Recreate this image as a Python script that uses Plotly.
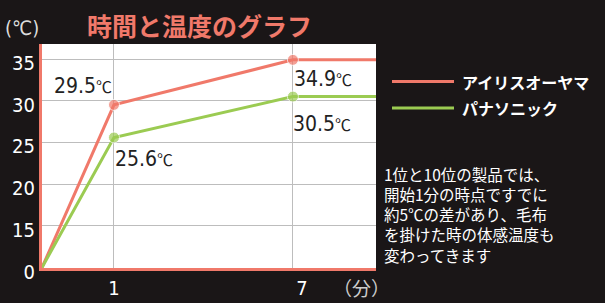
import plotly.graph_objects as go

# ---- data ----
MINUTES = [0, 1, 7]
IRIS = [0, 29.5, 34.9]
PANA = [0, 25.6, 30.5]
SERIES_NAMES = ["アイリスオーヤマ", "パナソニック"]
Y_TICKS = [0, 15, 20, 25, 30, 35]
X_TICKS = [1, 7]
TITLE = "時間と温度のグラフ"
NOTE_LINES = ["1位と10位の製品では、", "開始1分の時点ですでに", "約5℃の差があり、毛布",
              "を掛けた時の体感温度も", "変わってきます"]

SALMON = "#F0796A"
GREEN = "#9BCB52"
BG = "#1a1617"
NUM_FONT = "Liberation Sans Narrow, DejaVu Sans Condensed, Roboto, sans-serif"
JP_FONT = "Noto Sans CJK JP"

# axis scales with breaks (x compressed after 1 minute, y compressed below 15)
def xs(m):
    return m if m <= 1 else 1 + (m - 1) * 0.4143

def ys(v):
    return v if v >= 15 else 10 + v / 3.0

X_RANGE = [0, 4.64]
Y_RANGE = [9.95, 36.8]

# plot-area pixel geometry -> paper coords helpers
L, R, T, B = 42, 376, 44, 268
def px(p):
    return (p - L) / (R - L)
def py(p):
    return (B - p) / (B - T)

fig = go.Figure()
series = [(IRIS, SALMON, SERIES_NAMES[0]), (PANA, GREEN, SERIES_NAMES[1])]
for vals, col, name in series:
    xx = [xs(m) for m in MINUTES] + [X_RANGE[1]]
    yy = [ys(v) for v in vals] + [ys(vals[-1])]
    sizes = [0] + [11] * (len(MINUTES) - 1) + [0]
    fig.add_trace(go.Scatter(x=xx, y=yy, mode="lines+markers", name=name,
                             line=dict(color=col, width=3),
                             marker=dict(color=col, size=sizes),
                             cliponaxis=False, showlegend=False))

# value labels (pixel offsets from their point)
label_shifts = {
    (0, 1): (-31, 18.5), (0, 2): (30.5, -19),
    (1, 1): (30.5, -21.5), (1, 2): (29.5, -27),
}
annotations = []
for si, (vals, col, name) in enumerate(series):
    for i in (1, 2):
        dx, dy = label_shifts[(si, i)]
        annotations.append(dict(
            x=xs(MINUTES[i]), y=ys(vals[i]), xref="x", yref="y",
            text=f"{vals[i]}<span style='font-family:Noto Sans CJK JP;font-size:16px'>℃</span>",
            showarrow=False, xshift=dx, yshift=dy, xanchor="center", yanchor="middle",
            font=dict(family=NUM_FONT, size=21, color="#222222")))

def paper_text(xp, yp, text, font, xanchor="center", align="center"):
    return dict(x=px(xp), y=py(yp), xref="paper", yref="paper", text=text, align=align,
                showarrow=False, xanchor=xanchor, yanchor="middle", font=font)

annotations.append(paper_text(199, 25, f"<b>{TITLE}</b>",
                              dict(family=JP_FONT, size=25, color=SALMON)))
annotations.append(paper_text(22, 28, "(℃)", dict(family=NUM_FONT, size=20, color="#dddddd")))
annotations.append(paper_text(361, 287, "（分）", dict(family=JP_FONT, size=19, color="#cccccc")))

# legend drawn manually
shapes = []
for k, (vals, col, name) in enumerate(series):
    yc = [81.5, 108][k]
    shapes.append(dict(type="line", xref="paper", yref="paper", x0=px(392), x1=px(454),
                       y0=py(yc), y1=py(yc), line=dict(color=col, width=3)))
    annotations.append(paper_text(460, yc, f"<b>{name}</b>",
                                  dict(family=JP_FONT, size=16, color="white"), xanchor="left"))

# note text (one multi-line block)
annotations.append(paper_text(382, 214, "<br>".join(NOTE_LINES),
                              dict(family=JP_FONT, size=15.5, color="white"),
                              xanchor="left", align="left"))

axis_common = dict(showgrid=True, gridcolor="#bdbdbd", gridwidth=1, zeroline=False,
                   showline=True, linecolor=SALMON, linewidth=3, ticks="", automargin=False,
                   tickfont=dict(family=NUM_FONT, size=20, color="white"))

x_ticktext = [str(m) if m == 1 else "\u2002\u2002" + str(m) for m in X_TICKS]

fig.update_layout(
    width=605, height=303,
    margin=dict(l=L, r=605 - R, t=T, b=303 - B, pad=0),
    paper_bgcolor=BG, plot_bgcolor="white",
    annotations=annotations, shapes=shapes,
    xaxis=dict(range=X_RANGE, tickvals=[xs(m) for m in X_TICKS],
               ticktext=x_ticktext, **axis_common),
    yaxis=dict(range=Y_RANGE, tickvals=[ys(v) for v in Y_TICKS],
               ticktext=[str(v) for v in Y_TICKS], ticklabelshift=4, **axis_common),
)

fig.write_html("out.html", config={"displayModeBar": False},
               post_script="document.body.style.margin='0';document.body.style.padding='0';"
                           "document.body.style.background='" + BG + "';")
